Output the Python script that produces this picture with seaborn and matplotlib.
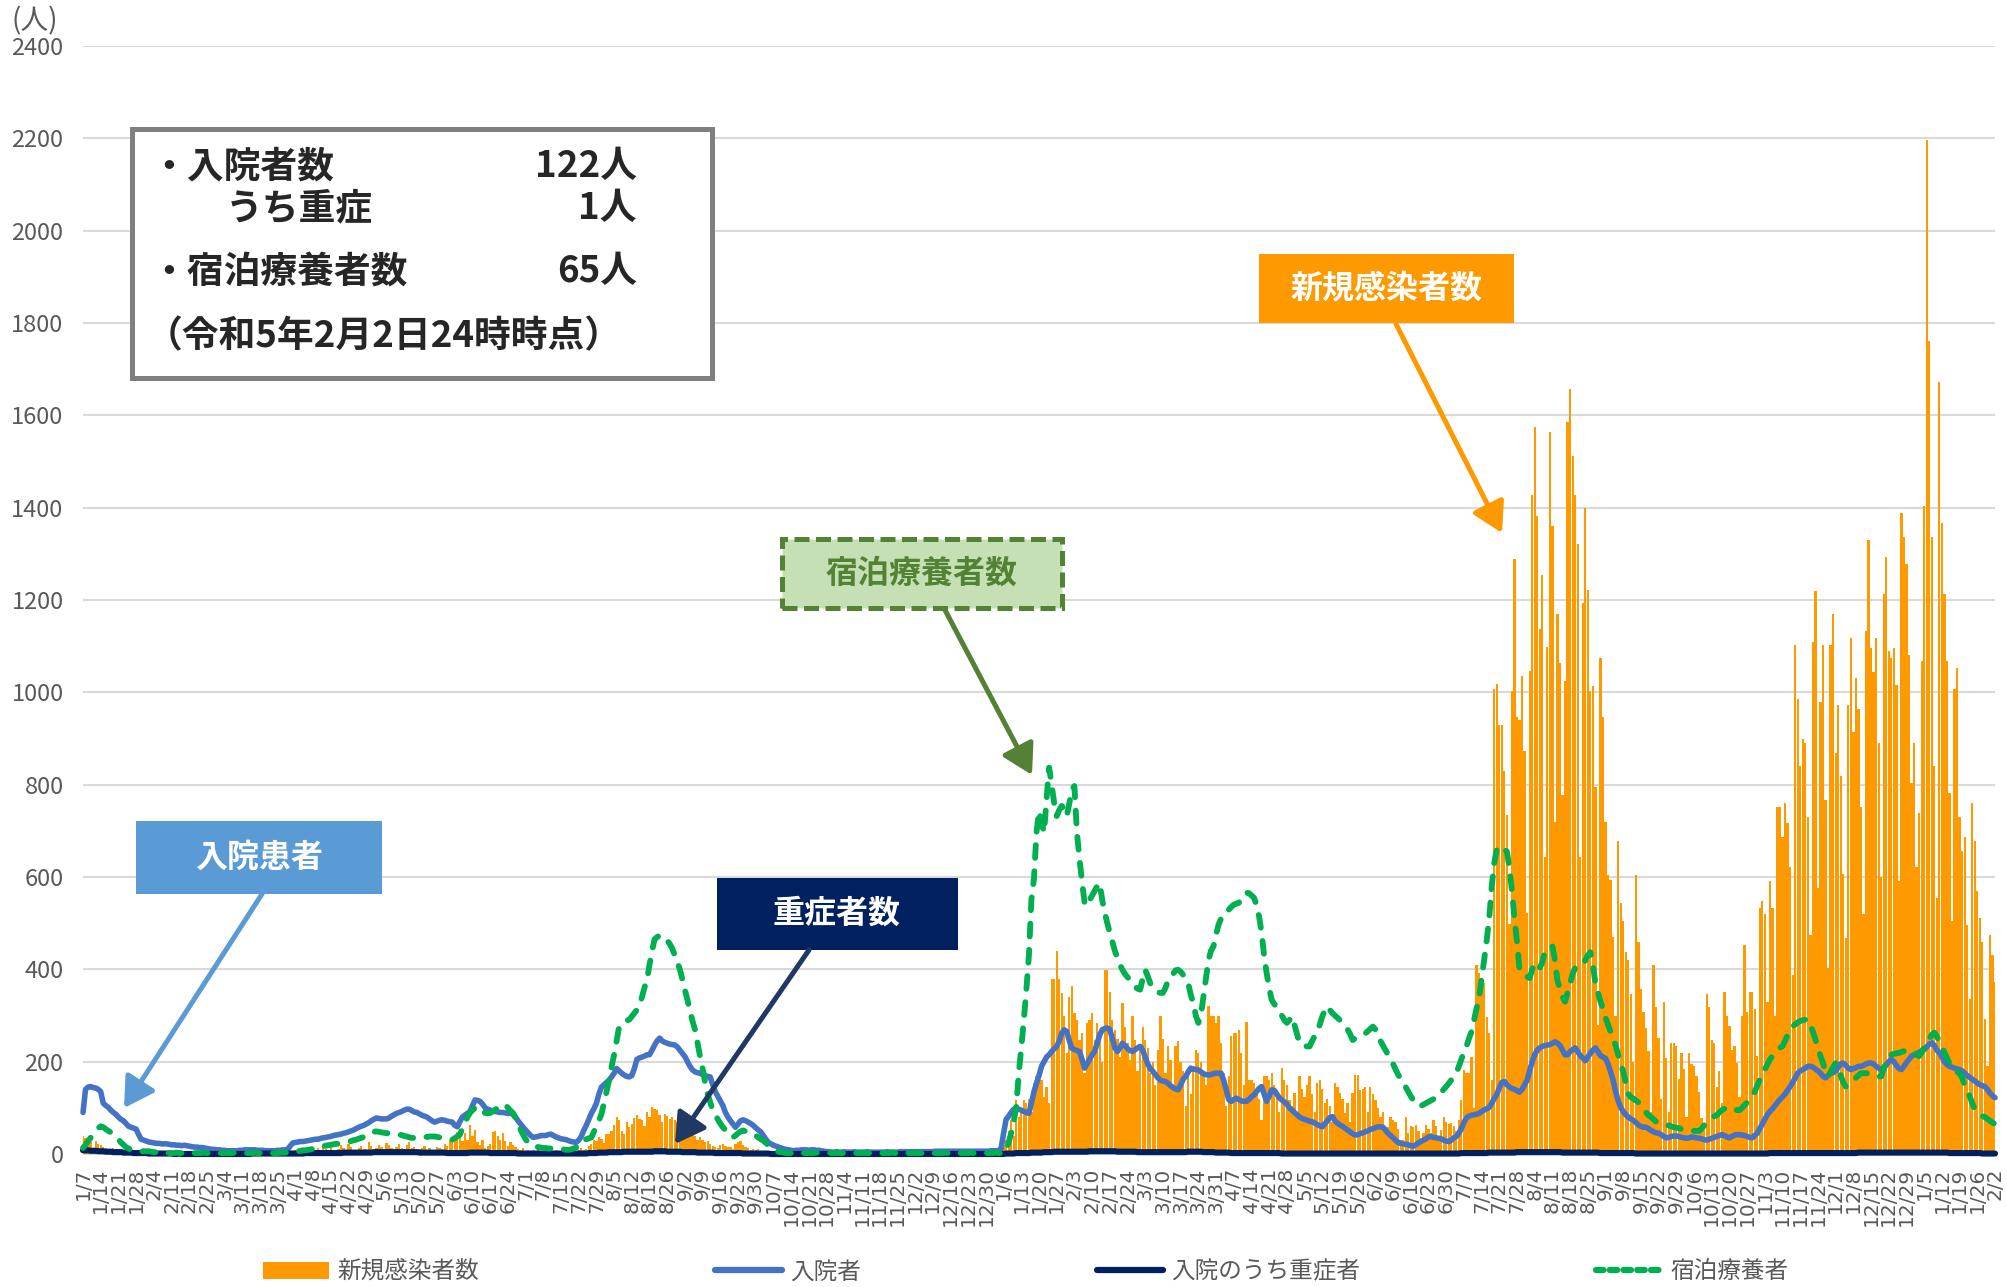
import numpy as np
import pandas as pd
import matplotlib
matplotlib.use("Agg")
import matplotlib.pyplot as plt
import seaborn as sns
from matplotlib.patches import Rectangle, FancyArrowPatch, Patch
from matplotlib.lines import Line2D

# daily series, starting 2021-01-07
start_date = "2021-01-07"

new_cases = [
    38, 35, 30, 25, 12, 28, 22, 20, 15, 14, 6, 10, 12, 8,
    10, 6, 5, 3, 7, 5, 4, 5, 3, 2, 1, 4, 3, 2,
    2, 1, 2, 0, 1, 2, 1, 1, 0, 2, 1, 0, 1, 1,
    0, 1, 0, 0, 1, 0, 1, 1, 0, 0, 0, 1, 1, 0,
    0, 1, 1, 0, 0, 0, 1, 1, 2, 0, 1, 1, 0, 2,
    1, 1, 0, 2, 1, 1, 3, 2, 4, 3, 1, 5, 3, 6,
    8, 5, 2, 9, 7, 10, 6, 4, 3, 12, 8, 15, 10, 7,
    18, 6, 3, 10, 20, 12, 9, 22, 15, 8, 6, 14, 18, 11,
    10, 25, 17, 9, 12, 20, 15, 8, 24, 19, 14, 8, 16, 22,
    12, 10, 19, 27, 13, 16, 5, 11, 14, 18, 9, 12, 7, 4,
    16, 12, 10, 22, 18, 30, 25, 35, 48, 40, 28, 45, 30, 62,
    38, 52, 26, 20, 30, 12, 18, 22, 47, 50, 38, 30, 45, 28,
    18, 25, 20, 15, 10, 8, 12, 6, 9, 5, 8, 4, 10, 7,
    3, 6, 12, 8, 5, 9, 4, 7, 3, 10, 6, 12, 8, 5,
    9, 14, 8, 11, 18, 22, 30, 28, 36, 33, 24, 44, 44, 50,
    62, 80, 73, 50, 44, 70, 58, 65, 78, 84, 76, 73, 60, 91,
    80, 102, 98, 95, 84, 70, 87, 82, 76, 80, 73, 70, 65, 50,
    44, 55, 58, 48, 40, 30, 36, 30, 25, 28, 22, 18, 15, 12,
    20, 22, 18, 15, 15, 10, 22, 25, 29, 20, 15, 12, 8, 11,
    9, 11, 5, 4, 3, 2, 4, 3, 1, 2, 2, 0, 1, 3,
    1, 0, 2, 1, 0, 0, 1, 1, 2, 0, 0, 1, 1, 0,
    0, 1, 0, 1, 0, 0, 0, 1, 0, 0, 0, 1, 0, 0,
    0, 0, 1, 0, 0, 0, 0, 0, 1, 0, 0, 0, 1, 0,
    0, 0, 0, 1, 0, 0, 0, 1, 0, 0, 0, 0, 1, 0,
    0, 0, 1, 0, 0, 0, 1, 0, 0, 0, 1, 0, 1, 0,
    1, 0, 0, 0, 2, 1, 0, 1, 2, 1, 3, 2, 5, 9,
    20, 30, 50, 74, 40, 117, 81, 100, 117, 110, 120, 90, 153, 168,
    175, 160, 124, 146, 110, 378, 378, 439, 378, 349, 300, 218, 341, 363,
    305, 290, 247, 262, 175, 284, 290, 305, 247, 284, 260, 200, 399, 399,
    350, 291, 269, 250, 211, 327, 276, 240, 204, 298, 247, 180, 233, 276,
    247, 230, 175, 200, 150, 226, 298, 250, 175, 233, 204, 150, 233, 244,
    200, 180, 103, 175, 130, 190, 226, 218, 200, 175, 150, 320, 300, 298,
    284, 298, 240, 175, 103, 168, 255, 262, 262, 269, 218, 150, 287, 161,
    161, 153, 140, 120, 74, 168, 168, 160, 175, 150, 139, 90, 186, 161,
    150, 117, 103, 132, 80, 168, 140, 124, 150, 168, 130, 90, 153, 161,
    140, 110, 120, 103, 70, 153, 146, 132, 120, 88, 110, 70, 132, 171,
    171, 139, 140, 146, 90, 146, 130, 117, 100, 81, 92, 50, 59, 81,
    74, 70, 55, 30, 30, 81, 45, 60, 59, 63, 50, 35, 45, 63,
    55, 45, 74, 60, 40, 52, 81, 70, 65, 67, 60, 50, 74, 117,
    182, 175, 175, 211, 100, 410, 392, 381, 370, 297, 262, 160, 1008, 1019,
    930, 930, 830, 734, 498, 1002, 1288, 946, 941, 1036, 874, 521, 1047, 1428,
    1574, 1383, 1137, 1254, 643, 1098, 1563, 1361, 720, 1170, 1064, 778, 1025, 1585,
    1658, 1512, 1428, 1322, 643, 1193, 1400, 1221, 1002, 1013, 795, 280, 1075, 946,
    720, 605, 594, 470, 300, 678, 543, 504, 437, 420, 347, 200, 605, 459,
    358, 308, 274, 224, 90, 409, 319, 252, 120, 330, 207, 90, 241, 240,
    235, 162, 218, 185, 80, 218, 196, 190, 168, 135, 78, 60, 347, 319,
    246, 241, 146, 180, 110, 351, 300, 278, 226, 234, 197, 124, 300, 453,
    307, 351, 351, 314, 212, 533, 548, 519, 329, 592, 533, 300, 752, 752,
    687, 760, 716, 621, 387, 1103, 986, 840, 899, 891, 731, 475, 1110, 1220,
    577, 979, 1103, 767, 402, 1103, 1169, 869, 972, 818, 606, 468, 972, 1118,
    913, 1030, 964, 752, 519, 1132, 1330, 1096, 1045, 1118, 891, 599, 1213, 1293,
    1089, 1074, 1096, 1015, 592, 1388, 1337, 1278, 1081, 804, 891, 621, 738, 1067,
    1403, 2196, 1760, 1337, 840, 555, 1673, 1366, 1213, 1067, 782, 504, 1008, 1052,
    731, 657, 687, 497, 336, 760, 679, 570, 511, 460, 292, 190, 475, 431,
    373,
]

hospitalized = [
    90, 140, 145, 146, 144, 143, 140, 135, 110, 105, 101, 95, 90, 86,
    80, 75, 72, 66, 60, 58, 56, 54, 42, 32, 30, 28, 26, 25,
    24, 23, 23, 22, 22, 22, 21, 20, 20, 19, 19, 18, 19, 18,
    17, 16, 15, 15, 14, 14, 13, 12, 11, 10, 10, 9, 9, 8,
    8, 7, 7, 7, 7, 7, 8, 8, 9, 9, 9, 9, 9, 8,
    8, 8, 7, 7, 7, 7, 7, 8, 8, 9, 9, 10, 18, 24,
    25, 26, 27, 27, 28, 29, 30, 31, 32, 32, 34, 35, 36, 37,
    38, 40, 41, 42, 43, 45, 46, 48, 50, 52, 55, 58, 60, 62,
    65, 68, 72, 75, 78, 77, 76, 76, 76, 78, 82, 85, 88, 90,
    92, 95, 97, 97, 94, 91, 90, 87, 84, 82, 80, 76, 72, 69,
    71, 73, 74, 73, 71, 70, 69, 62, 59, 70, 80, 84, 88, 92,
    105, 117, 116, 114, 108, 100, 97, 95, 93, 92, 91, 90, 90, 89,
    88, 88, 87, 80, 72, 65, 58, 52, 46, 40, 36, 37, 38, 40,
    40, 40, 42, 43, 40, 37, 35, 33, 32, 31, 29, 27, 26, 25,
    30, 38, 51, 62, 75, 88, 98, 110, 130, 145, 150, 155, 160, 167,
    175, 185, 180, 175, 171, 168, 167, 170, 185, 205, 208, 210, 212, 215,
    215, 225, 236, 245, 251, 245, 242, 240, 238, 237, 236, 232, 225, 218,
    211, 200, 190, 182, 178, 176, 175, 172, 170, 168, 167, 150, 135, 125,
    115, 105, 90, 80, 72, 65, 58, 65, 72, 74, 72, 69, 66, 62,
    57, 52, 48, 40, 32, 25, 22, 19, 17, 15, 13, 11, 10, 9,
    8, 7, 8, 8, 9, 9, 9, 8, 9, 9, 8, 8, 7, 6,
    5, 5, 4, 4, 5, 4, 4, 5, 4, 4, 4, 5, 4, 4,
    4, 4, 5, 4, 4, 4, 4, 4, 4, 4, 5, 4, 4, 4,
    4, 5, 5, 5, 5, 5, 5, 5, 5, 5, 5, 5, 5, 5,
    5, 6, 6, 6, 6, 6, 6, 6, 6, 6, 6, 6, 6, 6,
    6, 6, 6, 6, 6, 6, 6, 6, 6, 7, 7, 7, 7, 12,
    45, 75, 82, 90, 97, 99, 97, 95, 92, 90, 88, 110, 135, 153,
    170, 190, 200, 210, 215, 222, 228, 233, 245, 262, 269, 265, 245, 229,
    226, 224, 222, 205, 186, 195, 205, 215, 222, 240, 258, 269, 272, 273,
    270, 250, 230, 222, 230, 240, 235, 228, 224, 222, 226, 230, 233, 225,
    210, 195, 185, 179, 172, 165, 160, 158, 157, 153, 148, 144, 141, 139,
    150, 162, 168, 178, 186, 184, 183, 182, 178, 174, 172, 171, 172, 174,
    175, 175, 175, 160, 140, 118, 114, 118, 121, 118, 115, 114, 114, 118,
    124, 128, 135, 142, 146, 130, 114, 125, 139, 138, 130, 122, 117, 113,
    108, 100, 95, 90, 85, 80, 77, 75, 73, 71, 70, 67, 64, 61,
    59, 65, 72, 79, 81, 72, 67, 63, 60, 56, 52, 48, 44, 41,
    42, 44, 46, 48, 50, 53, 55, 57, 59, 59, 58, 52, 45, 40,
    35, 30, 25, 23, 22, 21, 20, 18, 17, 20, 24, 27, 30, 33,
    37, 38, 36, 35, 34, 33, 30, 28, 27, 30, 35, 38, 45, 55,
    68, 78, 82, 84, 85, 86, 88, 92, 95, 98, 101, 110, 120, 129,
    143, 155, 157, 150, 145, 142, 140, 137, 134, 140, 150, 160, 180, 200,
    215, 225, 230, 233, 235, 236, 237, 240, 243, 240, 235, 225, 215, 215,
    222, 226, 230, 222, 213, 208, 202, 210, 218, 225, 230, 222, 213, 210,
    207, 195, 178, 160, 135, 115, 101, 92, 85, 80, 76, 73, 68, 63,
    60, 58, 58, 55, 51, 48, 46, 45, 42, 38, 35, 36, 38, 39,
    39, 38, 36, 35, 34, 35, 37, 36, 35, 34, 33, 31, 30, 32,
    34, 36, 38, 40, 42, 40, 37, 35, 38, 41, 42, 42, 41, 40,
    38, 36, 35, 40, 45, 55, 65, 75, 85, 92, 98, 105, 112, 118,
    124, 130, 138, 146, 155, 165, 175, 180, 183, 186, 190, 190, 188, 184,
    180, 175, 168, 165, 170, 175, 176, 180, 188, 195, 197, 192, 186, 183,
    185, 187, 190, 190, 192, 195, 197, 197, 195, 190, 186, 183, 186, 193,
    200, 205, 200, 192, 185, 183, 190, 198, 205, 212, 215, 218, 220, 223,
    226, 232, 238, 241, 235, 225, 219, 210, 200, 194, 190, 188, 186, 184,
    183, 180, 175, 170, 166, 162, 158, 154, 150, 148, 146, 140, 132, 126,
    122,
]

severe = [
    8, 8, 8, 7, 7, 7, 6, 6, 6, 5, 5, 5, 4, 4,
    4, 4, 3, 3, 3, 3, 2, 2, 2, 2, 2, 2, 1, 1,
    1, 1, 1, 1, 1, 1, 1, 1, 0, 0, 1, 0, 0, 0,
    0, 0, 0, 0, 0, 0, 0, 0, 0, 0, 0, 0, 0, 0,
    0, 0, 0, 0, 0, 0, 0, 0, 0, 0, 0, 1, 1, 1,
    1, 1, 1, 1, 1, 1, 1, 1, 1, 1, 1, 1, 1, 1,
    1, 1, 1, 1, 2, 2, 2, 2, 2, 2, 2, 2, 2, 2,
    2, 2, 2, 2, 2, 3, 3, 3, 3, 3, 3, 3, 3, 3,
    3, 3, 3, 4, 4, 4, 4, 4, 4, 4, 4, 4, 4, 4,
    4, 4, 4, 4, 4, 4, 4, 3, 3, 3, 3, 3, 3, 3,
    3, 3, 3, 3, 2, 2, 2, 2, 2, 2, 2, 2, 2, 3,
    3, 3, 3, 3, 3, 3, 3, 2, 2, 2, 2, 2, 2, 2,
    2, 2, 2, 2, 1, 1, 1, 1, 1, 1, 1, 1, 1, 1,
    1, 1, 1, 1, 1, 1, 1, 1, 1, 1, 1, 1, 1, 1,
    1, 1, 1, 1, 2, 2, 2, 2, 3, 3, 3, 3, 4, 4,
    4, 4, 4, 4, 5, 5, 5, 5, 5, 5, 5, 5, 5, 5,
    5, 5, 6, 6, 6, 6, 6, 5, 5, 5, 5, 5, 5, 4,
    4, 4, 4, 4, 4, 3, 3, 3, 3, 3, 3, 3, 2, 2,
    2, 2, 2, 2, 2, 2, 2, 2, 2, 1, 1, 1, 1, 1,
    1, 1, 1, 1, 1, 1, 0, 0, 0, 0, 0, 0, 0, 0,
    0, 0, 0, 0, 0, 0, 0, 0, 0, 0, 0, 0, 0, 0,
    0, 0, 0, 0, 0, 0, 0, 0, 0, 0, 0, 0, 0, 0,
    0, 0, 0, 0, 0, 0, 0, 0, 0, 0, 0, 0, 0, 0,
    0, 0, 0, 0, 0, 0, 0, 0, 0, 0, 0, 0, 0, 0,
    0, 0, 0, 0, 0, 0, 0, 0, 0, 0, 0, 0, 0, 0,
    0, 0, 0, 0, 0, 0, 0, 0, 0, 0, 0, 0, 0, 0,
    0, 1, 1, 1, 1, 2, 2, 2, 2, 2, 2, 3, 3, 3,
    3, 3, 4, 4, 4, 4, 5, 5, 5, 5, 5, 5, 5, 5,
    5, 5, 5, 5, 5, 5, 6, 6, 6, 6, 6, 6, 6, 6,
    6, 6, 6, 5, 5, 5, 5, 5, 5, 5, 5, 4, 4, 4,
    4, 4, 4, 4, 4, 4, 4, 4, 4, 4, 4, 4, 4, 4,
    4, 4, 4, 5, 5, 5, 5, 5, 5, 4, 4, 4, 4, 4,
    3, 3, 3, 3, 3, 3, 2, 2, 2, 2, 2, 2, 2, 2,
    2, 2, 2, 2, 2, 2, 2, 2, 2, 2, 2, 2, 1, 1,
    1, 1, 1, 1, 1, 1, 1, 1, 1, 1, 1, 1, 1, 1,
    1, 1, 1, 1, 1, 1, 1, 1, 1, 1, 1, 1, 1, 1,
    1, 1, 1, 1, 1, 1, 1, 1, 1, 1, 1, 1, 1, 1,
    1, 1, 1, 1, 1, 1, 1, 1, 1, 1, 1, 1, 1, 1,
    1, 1, 1, 1, 1, 1, 1, 1, 1, 1, 1, 1, 1, 2,
    2, 2, 2, 2, 2, 2, 2, 2, 2, 2, 3, 3, 3, 3,
    3, 3, 3, 3, 3, 3, 3, 4, 4, 4, 4, 4, 4, 4,
    4, 4, 4, 4, 4, 4, 4, 4, 4, 4, 4, 3, 3, 3,
    3, 3, 3, 3, 3, 3, 3, 3, 3, 3, 3, 3, 2, 2,
    2, 2, 2, 2, 2, 2, 2, 2, 2, 2, 2, 2, 1, 1,
    1, 1, 1, 1, 1, 1, 1, 1, 1, 1, 1, 1, 1, 1,
    1, 1, 1, 1, 1, 1, 1, 1, 1, 1, 1, 1, 1, 1,
    1, 1, 1, 1, 1, 1, 1, 1, 1, 1, 1, 1, 1, 1,
    1, 1, 1, 1, 1, 1, 1, 1, 1, 2, 2, 2, 2, 2,
    2, 2, 2, 2, 2, 2, 2, 2, 2, 2, 2, 2, 2, 2,
    2, 2, 2, 2, 2, 2, 2, 2, 2, 2, 2, 2, 2, 2,
    2, 2, 3, 3, 3, 3, 3, 3, 3, 3, 3, 3, 3, 3,
    3, 3, 3, 3, 3, 3, 3, 3, 3, 3, 3, 3, 3, 3,
    3, 3, 3, 3, 3, 3, 3, 3, 3, 3, 2, 2, 2, 2,
    2, 2, 2, 2, 2, 2, 2, 2, 2, 1, 1, 1, 1, 1,
    1,
]

hotel = [
    13, 20, 28, 35, 42, 50, 56, 60, 58, 54, 50, 47, 44, 38,
    32, 25, 20, 15, 12, 9, 8, 7, 7, 6, 6, 6, 6, 5,
    4, 4, 3, 3, 3, 3, 2, 2, 2, 3, 2, 2, 2, 2,
    2, 3, 2, 2, 2, 2, 3, 2, 2, 2, 3, 2, 2, 2,
    2, 2, 2, 2, 3, 3, 2, 2, 2, 2, 2, 2, 3, 2,
    2, 2, 3, 2, 2, 2, 2, 2, 3, 3, 3, 3, 3, 4,
    5, 6, 7, 8, 8, 9, 10, 11, 13, 14, 16, 17, 18, 19,
    20, 21, 22, 22, 23, 24, 25, 26, 28, 30, 31, 33, 35, 37,
    40, 43, 46, 48, 49, 48, 47, 46, 45, 45, 44, 43, 42, 42,
    41, 39, 38, 36, 35, 35, 35, 36, 36, 37, 37, 38, 38, 38,
    37, 36, 35, 34, 33, 32, 31, 34, 38, 42, 55, 68, 80, 89,
    95, 100, 103, 99, 93, 89, 88, 89, 92, 96, 100, 104, 106, 107,
    100, 94, 89, 78, 65, 53, 42, 32, 25, 20, 18, 16, 15, 14,
    13, 13, 12, 12, 11, 11, 11, 10, 10, 9, 9, 10, 12, 14,
    15, 24, 29, 32, 34, 36, 48, 60, 72, 87, 110, 135, 160, 189,
    215, 245, 276, 282, 286, 289, 291, 298, 305, 312, 320, 340, 360, 378,
    410, 440, 465, 470, 473, 473, 470, 462, 455, 445, 430, 415, 400, 378,
    355, 334, 310, 288, 269, 240, 211, 185, 155, 130, 112, 95, 85, 75,
    66, 58, 52, 45, 40, 36, 40, 45, 49, 51, 49, 47, 45, 44,
    40, 36, 32, 29, 24, 19, 14, 10, 7, 5, 4, 3, 2, 2,
    2, 2, 2, 3, 2, 2, 2, 2, 2, 2, 3, 2, 2, 2,
    2, 3, 2, 2, 2, 2, 2, 2, 2, 3, 2, 2, 2, 2,
    2, 2, 2, 2, 3, 2, 2, 2, 2, 2, 2, 2, 3, 2,
    2, 2, 3, 2, 2, 2, 2, 2, 2, 2, 2, 3, 2, 2,
    2, 2, 2, 2, 2, 3, 2, 2, 2, 2, 3, 2, 2, 2,
    2, 3, 2, 2, 2, 2, 2, 2, 2, 2, 2, 3, 2, 2,
    2, 7, 25, 45, 70, 102, 175, 230, 290, 356, 430, 551, 596, 696,
    743, 720, 696, 770, 837, 800, 760, 732, 745, 754, 745, 732, 760, 790,
    797, 696, 640, 590, 545, 537, 550, 560, 570, 580, 587, 550, 522, 500,
    479, 460, 440, 425, 410, 399, 390, 383, 378, 370, 362, 358, 356, 380,
    399, 385, 370, 363, 355, 350, 349, 349, 360, 375, 380, 390, 398, 399,
    395, 388, 381, 370, 345, 327, 300, 284, 300, 340, 380, 420, 440, 450,
    475, 497, 510, 520, 527, 529, 535, 540, 542, 544, 555, 562, 566, 565,
    560, 555, 540, 515, 480, 430, 392, 360, 334, 325, 318, 312, 300, 290,
    284, 290, 298, 280, 260, 240, 236, 234, 233, 233, 245, 255, 265, 280,
    298, 310, 320, 312, 305, 300, 295, 290, 284, 278, 270, 260, 247, 250,
    253, 255, 258, 261, 266, 271, 276, 270, 260, 245, 235, 225, 215, 205,
    195, 183, 172, 163, 154, 145, 135, 125, 117, 110, 104, 104, 107, 110,
    113, 116, 119, 121, 127, 133, 140, 146, 153, 160, 168, 175, 190, 205,
    220, 233, 250, 265, 290, 315, 340, 380, 420, 462, 510, 580, 630, 660,
    667, 664, 660, 655, 620, 570, 510, 460, 400, 390, 386, 384, 381, 400,
    414, 410, 403, 415, 437, 443, 448, 450, 420, 375, 358, 340, 330, 350,
    370, 390, 403, 405, 407, 409, 420, 430, 437, 410, 370, 350, 330, 314,
    295, 280, 265, 250, 235, 215, 195, 179, 155, 130, 123, 120, 116, 112,
    105, 98, 90, 84, 80, 75, 70, 67, 65, 63, 62, 62, 60, 58,
    57, 56, 54, 52, 51, 50, 50, 50, 50, 50, 55, 62, 67, 72,
    77, 82, 84, 90, 95, 98, 100, 102, 100, 97, 95, 95, 100, 106,
    112, 117, 125, 135, 148, 161, 172, 183, 194, 205, 212, 220, 226, 230,
    234, 245, 258, 270, 276, 281, 285, 288, 290, 291, 292, 280, 265, 248,
    230, 212, 197, 180, 168, 178, 188, 197, 190, 170, 155, 146, 152, 158,
    161, 165, 170, 175, 175, 175, 175, 175, 173, 170, 168, 168, 185, 200,
    212, 215, 217, 218, 219, 221, 223, 225, 226, 222, 218, 215, 212, 220,
    232, 241, 250, 258, 263, 255, 243, 232, 220, 208, 197, 190, 183, 178,
    175, 165, 150, 139, 125, 110, 97, 90, 85, 82, 80, 76, 72, 68,
    65,
]

series_names = ["新規感染者数", "入院者", "入院のうち重症者", "宿泊療養者"]
callout_labels = ["入院患者", "重症者数", "宿泊療養者数", "新規感染者数"]
summary_items = ["・入院者数", "うち重症", "・宿泊療養者数"]
summary_values = ["122人", "1人", "65人"]
summary_note = "（令和5年2月2日24時時点）"

W, H = 2008, 1287
ORANGE = "#ff9900"
BLUE = "#4472c4"
NAVY = "#002060"
GREEN = "#00b050"
GRAY_TXT = "#595959"

sns.set_style("white")
plt.rcParams["font.family"] = ["Noto Sans CJK JP", "DejaVu Sans"]


def fx(x):
    return x / W


def fy(y):
    return 1 - y / H


fig = plt.figure(figsize=(W / 100, H / 100), dpi=100)
ax = fig.add_axes([fx(83), fy(1154), (1995 - 83) / W, (1154 - 46) / H])

days = np.arange(len(new_cases))
dates = pd.date_range(start_date, periods=len(new_cases), freq="D")

sns.barplot(
    x=days, y=new_cases, native_scale=True, color=ORANGE, saturation=1,
    width=0.9, errorbar=None, linewidth=0, ax=ax, zorder=2
)

sns.lineplot(x=days, y=hospitalized, color=BLUE, linewidth=4.0,
             errorbar=None, ax=ax, zorder=3, clip_on=False)
sns.lineplot(x=days, y=severe, color=NAVY, linewidth=4.4,
             errorbar=None, ax=ax, zorder=4, clip_on=False)
sns.lineplot(x=days, y=hotel, color=GREEN, linewidth=4.2,
             errorbar=None, ax=ax, zorder=5, clip_on=False)
hotel_line = ax.lines[-1]
hotel_line.set_dashes([2.2, 2.3])
hotel_line.set_dash_capstyle("round")

ax.set_xlim(0, len(new_cases) - 1)
ax.set_ylim(0, 2400)
ax.set_xlabel("")
ax.set_ylabel("")

ax.set_yticks(range(0, 2401, 200))
ax.set_yticklabels([str(v) for v in range(0, 2401, 200)], fontsize=17, color=GRAY_TXT)
ax.yaxis.grid(True, color="#d9d9d9", linewidth=1.5)
ax.xaxis.grid(False)
ax.set_axisbelow(True)

tick_pos = days[::7]
tick_labels = [f"{d.month}/{d.day}" for d in dates[::7]]
ax.set_xticks(tick_pos)
ax.set_xticklabels(tick_labels, rotation=90, fontsize=14.5, color=GRAY_TXT,
                   family="DejaVu Sans")
ax.set_xticks(days, minor=True)
ax.tick_params(axis="x", which="major", length=4, width=0.8, color="#bfbfbf", pad=6)
ax.tick_params(axis="x", which="minor", length=4, width=0.8, color="#bfbfbf")
ax.tick_params(axis="y", length=0, pad=14)

for side in ["top", "right", "left"]:
    ax.spines[side].set_visible(False)
ax.spines["bottom"].set_color("#d9d9d9")

fig.text(fx(11), fy(21), "(人)", fontsize=20, color=GRAY_TXT, va="center", ha="left")

# legend
handles = [
    Patch(facecolor=ORANGE, edgecolor="none"),
    Line2D([0], [0], color=BLUE, linewidth=4.5),
    Line2D([0], [0], color=NAVY, linewidth=4.5),
    Line2D([0], [0], color=GREEN, linewidth=4.5, dashes=[1.2, 1.0], dash_capstyle="round"),
]
fig.legend(handles, series_names, loc="center", bbox_to_anchor=(fx(1026), fy(1272)),
           ncol=4, frameon=False, fontsize=17, handlelength=2.8, handletextpad=0.35,
           columnspacing=10, labelcolor=GRAY_TXT)


def box(x0, y0, x1, y1, **kw):
    r = Rectangle((fx(x0), fy(y1)), fx(x1) - fx(x0), fy(y0) - fy(y1),
                  transform=fig.transFigure, **kw)
    fig.add_artist(r)


def arrow(x0, y0, x1, y1, color, lw=3.6):
    a = FancyArrowPatch((fx(x0), fy(y0)), (fx(x1), fy(y1)), transform=fig.transFigure,
                        arrowstyle="-|>,head_length=0.6,head_width=0.35",
                        mutation_scale=30, color=color, linewidth=lw,
                        shrinkA=0, shrinkB=0)
    fig.add_artist(a)


# callouts
box(136, 821, 382, 894, facecolor="#5b9bd5", edgecolor="none")
fig.text(fx(259), fy(858), callout_labels[0], color="white", fontsize=23,
         fontweight="bold", ha="center", va="center")
arrow(262, 894, 124, 1108, "#5b9bd5")

box(717, 878, 958, 950, facecolor=NAVY, edgecolor="none")
fig.text(fx(837), fy(914), callout_labels[1], color="white", fontsize=23,
         fontweight="bold", ha="center", va="center")
arrow(809, 950, 675, 1144, "#203864")

box(782, 539, 1062, 608, facecolor="#c5e0b4", edgecolor="#548235",
    linewidth=3.6, linestyle=(0, (3, 1.3)))
fig.text(fx(922), fy(574), callout_labels[2], color="#548235", fontsize=23,
         fontweight="bold", ha="center", va="center")
arrow(945, 610, 1032, 775, "#548235")

box(1259, 254, 1514, 323, facecolor=ORANGE, edgecolor="none")
fig.text(fx(1386), fy(289), callout_labels[3], color="white", fontsize=23,
         fontweight="bold", ha="center", va="center")
arrow(1396, 324, 1502, 533, ORANGE)

# summary box
box(132, 129, 712, 378, facecolor="white", edgecolor="#7f7f7f", linewidth=3.6)
item_pos = [(150, 167), (226, 209), (150, 272)]
for (x, y), label, value in zip(item_pos, summary_items, summary_values):
    fig.text(fx(x), fy(y), label, fontsize=26.5, fontweight="bold", ha="left", va="center")
    fig.text(fx(637), fy(y), value, fontsize=26.5, fontweight="bold", ha="right", va="center")
fig.text(fx(146), fy(337), summary_note, fontsize=26.5, fontweight="bold", ha="left", va="center")

fig.savefig("out.png", dpi=100)
